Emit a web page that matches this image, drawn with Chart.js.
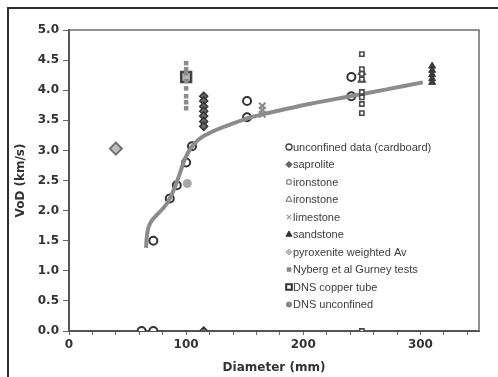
<!DOCTYPE html>
<html>
<head>
<meta charset="utf-8">
<script src="https://cdn.jsdelivr.net/npm/chart.js@4/dist/chart.umd.min.js"></script>
<style>
  html, body { margin: 0; padding: 0; background: #fff; overflow: hidden; }
  #wrap { position: relative; width: 498px; height: 377px; }
  #frame { position: absolute; left: 7px; top: 7px; width: 500px; height: 380px; border: 2px solid #2e2e2e; box-sizing: border-box; }
  #vodChart { position: absolute; left: 0; top: 0; }
</style>
</head>
<body>
<div id="wrap">
  <div id="frame"></div>
  <canvas id="vodChart" width="498" height="377"></canvas>
</div>
<script>
// =============================================
// VoD vs charge diameter
// =============================================

// unconfined data (cardboard)
const cardboardX = [62, 72, 72, 86, 92, 100, 105, 152, 152, 241, 241];
const cardboardY = [0, 0, 1.5, 2.2, 2.42, 2.8, 3.07, 3.82, 3.55, 4.22, 3.9];

const saproliteX = [115, 115, 115, 115, 115, 115, 115, 115];
const saproliteY = [3.9, 3.82, 3.73, 3.65, 3.57, 3.48, 3.4, 0];

const ironSqX = [250, 250, 250, 250, 250, 250, 250, 250, 250];
const ironSqY = [4.6, 4.35, 4.27, 4.18, 3.97, 3.88, 3.77, 3.62, 0];

const ironTriX = [250, 250];
const ironTriY = [4.3, 4.17];

const limestoneX = [165, 165, 165];
const limestoneY = [3.74, 3.67, 3.6];

const sandstoneX = [310, 310, 310, 310, 310];
const sandstoneY = [4.4, 4.33, 4.26, 4.19, 4.13];

const pyroxeniteX = [40];
const pyroxeniteY = [3.03];

const nybergX = [100, 100, 100, 100, 100, 100, 100, 100];
const nybergY = [4.45, 4.35, 4.28, 4.15, 4.03, 3.9, 3.8, 3.7];

const copperX = [100];
const copperY = [4.22];

const dnsUnconfX = [101];
const dnsUnconfY = [2.45];

// fitted trend curve
const trendX = [65.8, 66.4, 67.8, 70.5, 75, 80, 84, 87.5, 91, 95, 99, 104, 110, 118, 128, 142, 155, 172, 205, 240, 270, 302];
const trendY = [1.38, 1.56, 1.72, 1.83, 1.93, 2.03, 2.13, 2.26, 2.42, 2.64, 2.86, 3.04, 3.17, 3.27, 3.36, 3.46, 3.55, 3.63, 3.77, 3.9, 4.01, 4.13];

const xTickLabels = [0, 100, 200, 300];

const pts = (xs, ys) => xs.map((x, i) => ({ x, y: ys[i] }));

function series(label, xs, ys, style, legendStyle) {
  return Object.assign({
    label,
    data: pts(xs, ys),
    showLine: false,
    order: 1,
    legendStyle
  }, style);
}

const datasets = [
  series('unconfined data (cardboard)', cardboardX, cardboardY,
    { pointStyle: 'circle', pointRadius: 4, pointBorderWidth: 2, pointBackgroundColor: '#fff', pointBorderColor: '#333', order: 3 },
    { pointStyle: 'circle', radius: 3, borderWidth: 1.3, fill: '#fff', stroke: '#444' }),
  series('saprolite', saproliteX, saproliteY,
    { pointStyle: 'rectRot', pointRadius: 4, pointBorderWidth: 1.5, pointBackgroundColor: '#666', pointBorderColor: '#333' },
    { pointStyle: 'rectRot', radius: 3, borderWidth: 1, fill: '#666', stroke: '#444' }),
  series('ironstone', ironSqX, ironSqY,
    { pointStyle: 'rect', pointRadius: 3, pointBorderWidth: 1.6, pointBackgroundColor: '#fff', pointBorderColor: '#4a4a4a' },
    { pointStyle: 'rect', radius: 3, borderWidth: 1, fill: '#fff', stroke: '#666' }),
  series('ironstone', ironTriX, ironTriY,
    { pointStyle: 'triangle', pointRadius: 4, pointBorderWidth: 1.5, pointBackgroundColor: '#fff', pointBorderColor: '#555' },
    { pointStyle: 'triangle', radius: 3.5, borderWidth: 1, fill: '#fff', stroke: '#666' }),
  series('limestone', limestoneX, limestoneY,
    { pointStyle: 'crossRot', pointRadius: 4.5, pointBorderWidth: 2, pointBorderColor: '#8a8a8a' },
    { pointStyle: 'crossRot', radius: 3, borderWidth: 1.2, fill: '#999', stroke: '#999' }),
  series('sandstone', sandstoneX, sandstoneY,
    { pointStyle: 'triangle', pointRadius: 4, pointBorderWidth: 1, pointBackgroundColor: '#404040', pointBorderColor: '#333' },
    { pointStyle: 'triangle', radius: 3.5, borderWidth: 1, fill: '#333', stroke: '#333' }),
  series('pyroxenite weighted Av', pyroxeniteX, pyroxeniteY,
    { pointStyle: 'rectRot', pointRadius: 6, pointBorderWidth: 2, pointBackgroundColor: '#bdbdbd', pointBorderColor: '#707070' },
    { pointStyle: 'rectRot', radius: 3, borderWidth: 1, fill: '#bbb', stroke: '#aaa' }),
  series('Nyberg et al Gurney tests', nybergX, nybergY,
    { pointStyle: 'rect', pointRadius: 3.2, pointBorderWidth: 0, pointBackgroundColor: '#8c8c8c' },
    { pointStyle: 'rect', radius: 3.2, borderWidth: 0, fill: '#888', stroke: '#888' }),
  series('DNS copper tube', copperX, copperY,
    { pointStyle: 'rect', pointRadius: 7, pointBorderWidth: 2.5, pointBackgroundColor: '#b8b8b8', pointBorderColor: '#444' },
    { pointStyle: 'rect', radius: 4, borderWidth: 2, fill: '#fff', stroke: '#333' }),
  series('DNS unconfined', dnsUnconfX, dnsUnconfY,
    { pointStyle: 'circle', pointRadius: 4.5, pointBorderWidth: 0, pointBackgroundColor: '#a8a8a8' },
    { pointStyle: 'circle', radius: 3, borderWidth: 0, fill: '#888', stroke: '#888' }),
  {
    label: 'trend',
    data: pts(trendX, trendY),
    showLine: true,
    borderColor: '#8c8c8c',
    borderWidth: 4,
    pointRadius: 0,
    tension: 0.4,
    order: 2
  }
];

// top + right edges of the plot box
const plotFrame = {
  id: 'plotFrame',
  beforeDatasetsDraw(chart) {
    const { ctx, chartArea: a } = chart;
    ctx.save();
    ctx.strokeStyle = '#6e6e6e';
    ctx.lineWidth = 1.5;
    ctx.beginPath();
    ctx.moveTo(a.left, a.top);
    ctx.lineTo(a.right, a.top);
    ctx.lineTo(a.right, a.bottom);
    ctx.stroke();
    ctx.restore();
  }
};

// legend box sitting inside the plot area
const innerLegend = {
  id: 'innerLegend',
  afterDatasetsDraw(chart) {
    const { ctx } = chart;
    const x0 = 289, y0 = 147, rowH = 17.5;
    ctx.save();
    ctx.font = '11px "Liberation Sans", Arial, sans-serif';
    ctx.textBaseline = 'middle';
    ctx.textAlign = 'left';
    chart.data.datasets.filter(d => d.legendStyle).forEach((d, i) => {
      const s = d.legendStyle;
      const y = y0 + i * rowH;
      ctx.fillStyle = s.fill;
      ctx.strokeStyle = s.stroke;
      ctx.lineWidth = s.borderWidth;
      Chart.helpers.drawPoint(ctx, { pointStyle: s.pointStyle, radius: s.radius, rotation: 0, borderWidth: s.borderWidth }, x0, y);
      ctx.fillStyle = '#3c3c3c';
      ctx.fillText(d.label, x0 + 4, y + 0.5);
    });
    ctx.restore();
  }
};

const tickFont = { family: '"DejaVu Sans", sans-serif', size: 12, weight: 'bold' };
const titleFont = { family: '"DejaVu Sans", sans-serif', size: 12, weight: 'bold' };

new Chart(document.getElementById('vodChart'), {
  type: 'scatter',
  data: { datasets },
  options: {
    responsive: false,
    animation: false,
    devicePixelRatio: 1,
    layout: { padding: { top: 30, right: 19, left: 0, bottom: 0 } },
    plugins: {
      legend: { display: false },
      tooltip: { enabled: false }
    },
    scales: {
      x: {
        type: 'linear',
        min: 0, max: 350,
        afterFit: s => { s.height = 46; },
        afterBuildTicks: s => { s.ticks = Array.from({ length: 18 }, (_, i) => ({ value: i * 20 })).filter(t => t.value <= 350); },
        ticks: {
          color: '#333', font: tickFont, padding: 3, maxRotation: 0, autoSkip: false,
          callback: v => xTickLabels.includes(v) ? String(v) : ''
        },
        grid: { drawOnChartArea: false, tickLength: 4, tickColor: '#666', tickWidth: 1 },
        border: { color: '#555', width: 2 },
        title: { display: true, text: 'Diameter (mm)', color: '#333', font: titleFont, padding: { top: 2, bottom: 2 } }
      },
      y: {
        min: 0, max: 5,
        afterFit: s => { s.width = 69; },
        ticks: { stepSize: 0.5, color: '#333', font: tickFont, padding: 4, callback: v => v.toFixed(1) },
        grid: { drawOnChartArea: false, tickLength: 6, tickColor: '#666', tickWidth: 1 },
        border: { color: '#555', width: 2 },
        title: { display: true, text: 'VoD (km/s)', color: '#333', font: titleFont, padding: { top: 14, bottom: 2 } }
      }
    }
  },
  plugins: [plotFrame, innerLegend]
});
</script>
</body>
</html>
